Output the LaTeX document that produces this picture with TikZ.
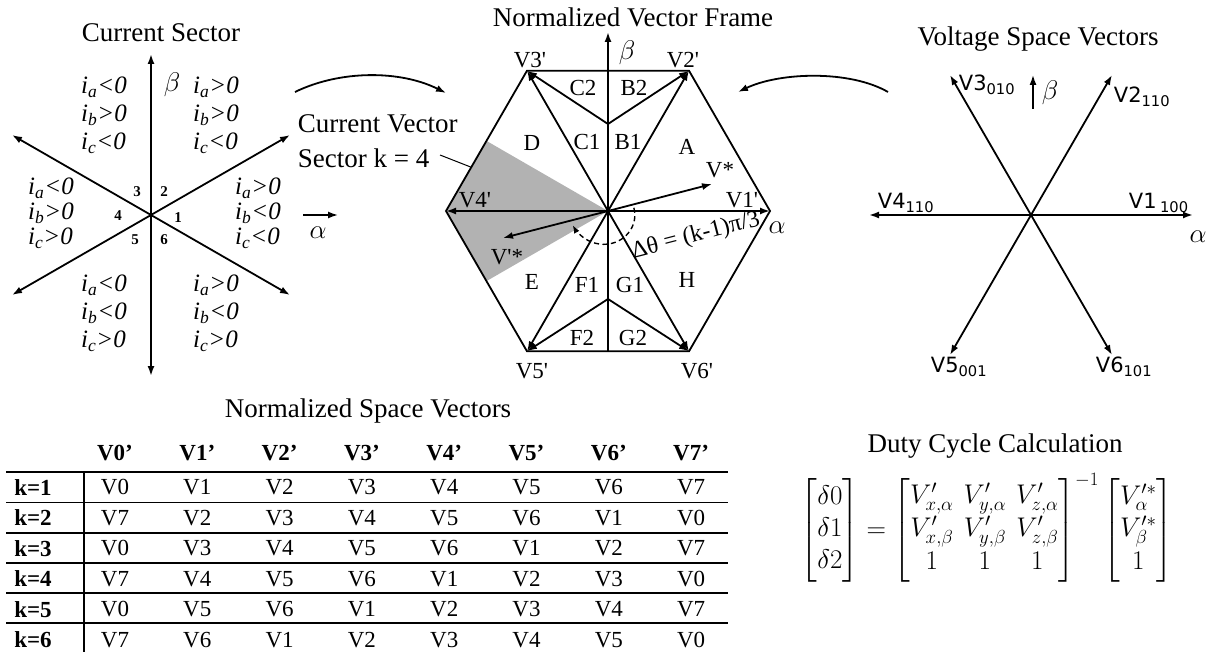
\RequirePackage{fix-cm}
\documentclass[tikz,border=0pt]{standalone}
\usepackage{amsmath}
\usepackage[no-math]{fontspec}
\setmainfont{Liberation Serif}
\newfontfamily\dvsans{DejaVu Sans}
\usetikzlibrary{arrows.meta}
\begin{document}
\begin{tikzpicture}[x=1pt,y=-1pt, line width=1.8pt,
  every node/.style={inner sep=0pt},
  arr/.style={-{Latex[length=10pt,width=7pt]}},
  ttl/.style={font=\fontsize{27}{32}\selectfont},
  vlab/.style={font=\fontsize{23}{27}\selectfont},
  ineq/.style={font=\fontsize{25}{28}\selectfont\itshape, align=left},
  ineqs/.style={font=\fontsize{25}{25}\selectfont\itshape, align=left},
  num/.style={font=\fontsize{15}{18}\selectfont\bfseries},
  greek/.style={font=\fontsize{27}{32}\selectfont},
  sv/.style={font=\dvsans\fontsize{21}{25}\selectfont, anchor=west},
  tabh/.style={font=\fontsize{23}{26}\selectfont\bfseries},
  tabc/.style={font=\fontsize{23}{26}\selectfont},
  rule/.style={line width=1.2pt}]
\useasboundingbox (0,0) rectangle (1225,652);

% ---------- titles ----------
\node[ttl] (t1) at (161,33) {Current Sector};
\node[ttl] (t2) at (633,17) {Normalized Vector Frame};
\node[ttl] (t3) at (1038,39) {Voltage Space Vectors};
\node[ttl] (t4) at (368,411) {Normalized Space Vectors};
\node[ttl] (t5) at (995,446) {Duty Cycle Calculation};

% ---------- left: current sector ----------
\coordinate (lc) at (151,215);
\coordinate (lN) at (151,54);
\coordinate (lS) at (151,376);
\coordinate (lNE) at (290,135);
\coordinate (lNW) at (12,135);
\coordinate (lSW) at (12,295);
\coordinate (lSE) at (290,295);
\foreach \p in {lN,lS,lNE,lNW,lSW,lSE} \draw[arr] (lc) -- (\p);
\node[greek] (lbeta) at (172,85) {$\beta$};
\coordinate (la1) at (303,215);
\coordinate (la2) at (338,215);
\draw[arr, line width=1.6pt] (la1) -- (la2);
\node[greek] (lalpha) at (318,233) {$\alpha$};
\node[num] (s3) at (137,192) {3};
\node[num] (s2) at (164,192) {2};
\node[num] (s4) at (118,216) {4};
\node[num] (s1) at (178,218) {1};
\node[num] (s5) at (135,240) {5};
\node[num] (s6) at (164,240) {6};
\node[ineq] (g1) at (104,115) {i\textsubscript{a}<0\\i\textsubscript{b}>0\\i\textsubscript{c}<0};
\node[ineq] (g2) at (216,115) {i\textsubscript{a}>0\\i\textsubscript{b}>0\\i\textsubscript{c}<0};
\node[ineqs] (g3) at (51,213) {i\textsubscript{a}<0\\i\textsubscript{b}>0\\i\textsubscript{c}>0};
\node[ineqs] (g4) at (258,213) {i\textsubscript{a}>0\\i\textsubscript{b}<0\\i\textsubscript{c}<0};
\node[ineq] (g5) at (104,313) {i\textsubscript{a}<0\\i\textsubscript{b}<0\\i\textsubscript{c}>0};
\node[ineq] (g6) at (216,313) {i\textsubscript{a}>0\\i\textsubscript{b}<0\\i\textsubscript{c}>0};

% current vector label
\node[font=\fontsize{27}{35}\selectfont, align=left, anchor=west] (cv) at (297,141) {Current Vector\\Sector k = 4};
\coordinate (cvl1) at (440,155);
\coordinate (cvl2) at (491,175);
\draw[line width=1pt] (cvl1) -- (cvl2);

% curved arrows
\coordinate (ca1) at (295,92);
\coordinate (ca2) at (446,93);
\draw[arr] (ca1) .. controls (340,70) and (400,70) .. (ca2);
\coordinate (cb1) at (888,92);
\coordinate (cb2) at (738,92);
\draw[arr] (cb1) .. controls (850,70) and (780,72) .. (cb2);

% ---------- middle: normalized vector frame ----------
\coordinate (mc) at (608,211);
\coordinate (m1) at (770,211);
\coordinate (m2) at (689,70.7);
\coordinate (m3) at (527,70.7);
\coordinate (m4) at (446,211);
\coordinate (m5) at (527,351.3);
\coordinate (m6) at (689,351.3);
\coordinate (mt) at (608,124);
\coordinate (mb) at (608,299);
\coordinate (mbot) at (608,351.3);
\coordinate (mbeta) at (608,32);
\coordinate (sh1) at (486.5,140.9);
\coordinate (sh2) at (486.5,281.1);
\fill[black!30] (mc) -- (sh1) -- (m4) -- (sh2) -- cycle;
\draw[line join=miter] (m1) -- (m2) -- (m3) -- (m4) -- (m5) -- (m6) -- cycle;
\draw[arr] (mbot) -- (mbeta);
\foreach \p in {m1,m2,m3,m4,m5,m6} \draw[arr] (mc) -- (\p);
\draw[arr] (mt) -- (m2);
\draw[arr] (mt) -- (m3);
\draw[arr] (mb) -- (m5);
\draw[arr] (mb) -- (m6);
\coordinate (vs) at (712,184);
\coordinate (vps) at (503,238);
\draw[arr] (mc) -- (vs);
\draw[arr] (mc) -- (vps);
\draw[line width=1.4pt, dash pattern=on 5pt off 3.5pt, -{Latex[length=8pt,width=6pt]}]
  plot[domain=7:-158, samples=50, smooth]
  ({608+(26+12*(7-\x)/165)*cos(\x)}, {211-(26+12*(7-\x)/165)*sin(\x)});
\node[greek] (mb1) at (627,53) {$\beta$};
\node[greek] (ma1) at (777,228) {$\alpha$};
\node[vlab] (l3) at (530,60) {V3\textquotesingle};
\node[vlab] (l2) at (683,60) {V2\textquotesingle};
\node[vlab] (l1) at (742,200) {V1\textquotesingle};
\node[vlab] (l4) at (475,200) {V4\textquotesingle};
\node[vlab] (l5) at (532,371) {V5\textquotesingle};
\node[vlab] (l6) at (697,371) {V6\textquotesingle};
\node[vlab] (lC2) at (583,88) {C2};
\node[vlab] (lB2) at (634,88) {B2};
\node[vlab] (lC1) at (587,142) {C1};
\node[vlab] (lB1) at (628,142) {B1};
\node[vlab] (lD) at (532,143) {D};
\node[vlab] (lA) at (687,147) {A};
\node[vlab] (lE) at (532,282) {E};
\node[vlab] (lF1) at (587,285) {F1};
\node[vlab] (lG1) at (630,285) {G1};
\node[vlab] (lH) at (687,280) {H};
\node[vlab] (lF2) at (582,338) {F2};
\node[vlab] (lG2) at (633,338) {G2};
\node[vlab] (lvs) at (720,170) {V*};
\node[vlab] (lvps) at (507,257) {V\textquotesingle*};
\node[font=\fontsize{24}{28}\selectfont, rotate=14.5] (dth) at (696,236) {Δθ = (k-1)π/3};

% ---------- right: voltage space vectors ----------
\coordinate (rc) at (1031,215);
\coordinate (r1) at (1193,215);
\coordinate (r4) at (869,215);
\coordinate (r3) at (950,75);
\coordinate (r2) at (1112,75);
\coordinate (r5) at (950,355);
\coordinate (r6) at (1112,355);
\foreach \p in {r1,r2,r3,r4,r5,r6} \draw[arr] (rc) -- (\p);
\coordinate (rb1) at (1033,109);
\coordinate (rb2) at (1033,75);
\draw[arr, line width=1.5pt] (rb1) -- (rb2);
\node[greek] (rbeta) at (1050,93) {$\beta$};
\node[greek] (ralpha) at (1198,237) {$\alpha$};
\node[sv] (v3) at (958,85) {V3\textsubscript{010}};
\node[sv] (v2) at (1113,97) {V2\textsubscript{110}};
\node[sv] (v4) at (877,203) {V4\textsubscript{110}};
\node[sv] (v1) at (1128,203) {V1\,\textsubscript{100}};
\node[sv] (v5) at (930,367) {V5\textsubscript{001}};
\node[sv] (v6) at (1095,367) {V6\textsubscript{101}};

% ---------- table ----------
\foreach \h [count=\i from 0] in {V0,V1,V2,V3,V4,V5,V6,V7}
  \node[tabh] (h-\i) at ({115+82.3*\i},453) {\h’};
\foreach \row [count=\r] in {{V0,V1,V2,V3,V4,V5,V6,V7},{V7,V2,V3,V4,V5,V6,V1,V0},{V0,V3,V4,V5,V6,V1,V2,V7},{V7,V4,V5,V6,V1,V2,V3,V0},{V0,V5,V6,V1,V2,V3,V4,V7},{V7,V6,V1,V2,V3,V4,V5,V0}} {
  \node[tabh] (k-\r) at (33,{457+30.5*\r}) {k=\r};
  \foreach \cell [count=\c from 0] in \row
    \node[tabc] (c-\r-\c) at ({115+82.3*\c},{457+30.5*\r}) {\cell};
}
\foreach \yy in {472,502.5,533,563,593,623} \draw[rule] (6,\yy) -- (728,\yy);
\draw[rule] (84,472) -- (84,652);

% ---------- equation ----------
\node (eq) at (987,528) {\fontsize{27}{32}\selectfont
$\begin{bmatrix}\delta0\\ \delta1\\ \delta2\end{bmatrix} =
\begin{bmatrix} V'_{x,\alpha} & V'_{y,\alpha} & V'_{z,\alpha}\\
V'_{x,\beta} & V'_{y,\beta} & V'_{z,\beta}\\ 1 & 1 & 1\end{bmatrix}^{-1}
\begin{bmatrix} V'^{*}_{\alpha}\\ V'^{*}_{\beta}\\ 1\end{bmatrix}$};
\end{tikzpicture}
\end{document}
